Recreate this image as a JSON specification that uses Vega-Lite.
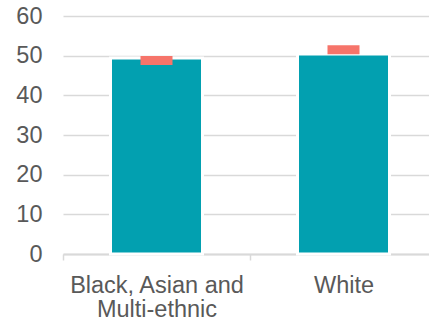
{
  "$schema": "https://vega.github.io/schema/vega-lite/v6.json",
  "autosize": {"type": "none"},
  "padding": {"left": 63, "top": 16, "right": 0, "bottom": 66},
  "width": 374,
  "height": 238,
  "background": "white",
  "config": {
    "view": {"stroke": null},
    "font": "Liberation Sans",
    "axis": {
      "labelFont": "Liberation Sans",
      "labelFontSize": 23.5,
      "labelColor": "#595959",
      "titleFont": "Liberation Sans"
    },
    "axisY": {
      "title": null,
      "values": [0, 10, 20, 30, 40, 50, 60],
      "domain": false,
      "ticks": false,
      "labelOverlap": false,
      "labelPadding": 21,
      "grid": true,
      "gridColor": "#D9D9D9",
      "gridWidth": 1.5
    }
  },
  "data": {
    "values": [
      {"group": "Black, Asian and Multi-ethnic", "value": 49.4, "marker": 48.8},
      {"group": "White", "value": 50.4, "marker": 51.5}
    ]
  },
  "encoding": {
    "x": {
      "field": "group",
      "type": "nominal",
      "sort": null,
      "scale": {"paddingInner": 0, "paddingOuter": 0},
      "axis": {
        "title": null,
        "labelAngle": 0,
        "labelPadding": 13,
        "labelLineHeight": 24,
        "labelOverlap": false,
        "labelExpr": "datum.value == 'Black, Asian and Multi-ethnic' ? ['Black, Asian and', 'Multi-ethnic'] : datum.label",
        "domainColor": "#D9D9D9",
        "domainWidth": 2,
        "tickColor": "#D9D9D9",
        "tickWidth": 1.5,
        "tickSize": 6,
        "tickBand": "extent",
        "grid": false
      }
    }
  },
  "layer": [
    {
      "mark": {"type": "bar", "color": "#02A0B0", "stroke": "white", "strokeWidth": 3, "width": 92},
      "encoding": {
        "y": {
          "field": "value",
          "type": "quantitative",
          "title": null,
          "scale": {"domain": [0, 60], "nice": false}
        }
      }
    },
    {
      "mark": {"type": "tick", "color": "#F6746A", "opacity": 1, "thickness": 9, "size": 32},
      "encoding": {
        "y": {"field": "marker", "type": "quantitative", "title": null}
      }
    }
  ]
}
